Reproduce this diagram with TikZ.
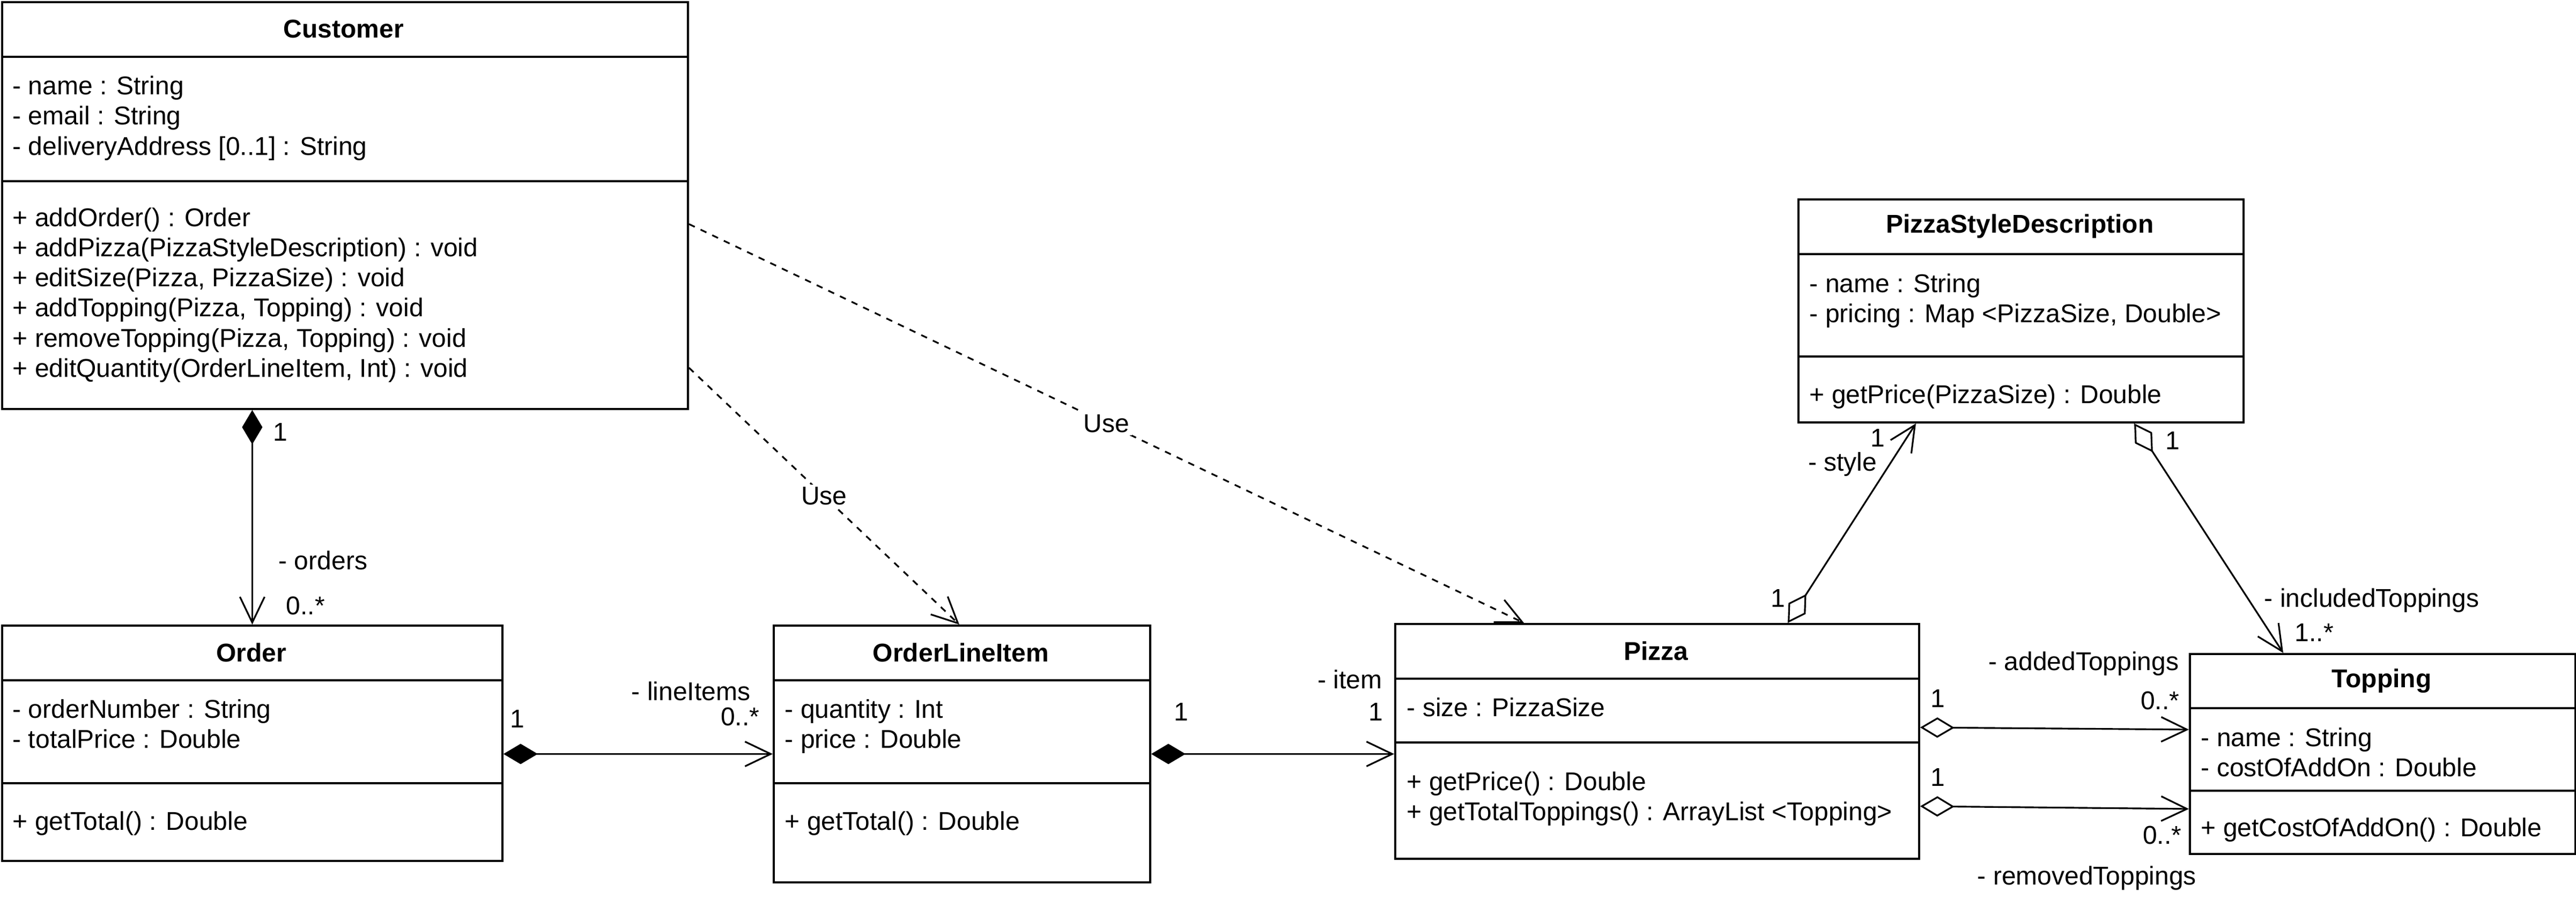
\documentclass[tikz,border=0pt]{standalone}
\usepackage{fontspec}
\setmainfont{Liberation Sans}
\usepackage{tikz}
\usetikzlibrary{arrows.meta, positioning}
\newcommand{\umlsize}{\fontsize{13.66pt}{15.94pt}\selectfont}
\tikzset{>=stealth}
\tikzset{
  classbox/.style={draw, line width=1.1pt, anchor=north west, inner sep=0pt},
  classname/.style={font=\umlsize\bfseries},
  members/.style={anchor=base west, align=left, inner sep=0pt},
  lbl/.style={inner sep=0pt},
  open end/.style={-{Straight Barb[length=0.48cm, width=0.46cm]}},
  comp/.style={line width=0.9pt, {Diamond[length=0.64cm, width=0.38cm]}-{Straight Barb[length=0.48cm, width=0.46cm]}},
  aggr/.style={line width=0.9pt, {Diamond[open, fill=white, length=0.64cm, width=0.38cm]}-{Straight Barb[length=0.48cm, width=0.46cm]}},
  use/.style={line width=0.9pt, dash pattern=on 0.12cm off 0.12cm, open end}
}
\begin{document}
\begin{tikzpicture}[y=-1cm, font=\umlsize]
            \useasboundingbox (0,0) rectangle (48.04,16.76);

            % classes (members placed at the baseline of their last line)
            \node[classbox, minimum width=12.79cm, minimum height=7.59cm] (customer) at (0.02,0.02) {};
            \draw[line width=1.1pt] (0.02,1.06)--(12.81,1.06) (0.02,3.38)--(12.81,3.38);
            \node[classname] (customerName) at (6.41,0.54) {Customer};
            \node[members] (customerAttr) at (0.23,2.89) {- name : String\\- email : String\\- deliveryAddress [0..1] : String};
            \node[members] (customerOps) at (0.23,7.03) {+ addOrder() : Order\\+ addPizza(PizzaStyleDescription) : void\\+ editSize(Pizza, PizzaSize) : void\\+ addTopping(Pizza, Topping) : void\\+ removeTopping(Pizza, Topping) : void\\+ editQuantity(OrderLineItem, Int) : void};

            \node[classbox, minimum width=9.33cm, minimum height=4.39cm] (order) at (0.02,11.65) {};
            \draw[line width=1.1pt] (0.02,12.69)--(9.35,12.69) (0.02,14.61)--(9.35,14.61);
            \node[classname] (orderName) at (4.685,12.17) {Order};
            \node[members] (orderAttr) at (0.23,13.95) {- orderNumber : String\\- totalPrice : Double};
            \node[members] (orderOps) at (0.23,15.48) {+ getTotal() : Double};

            \node[classbox, minimum width=7.02cm, minimum height=4.79cm] (oli) at (14.41,11.65) {};
            \draw[line width=1.1pt] (14.41,12.69)--(21.43,12.69) (14.41,14.61)--(21.43,14.61);
            \node[classname] (oliName) at (17.92,12.17) {OrderLineItem};
            \node[members] (oliAttr) at (14.63,13.95) {- quantity : Int\\- price : Double};
            \node[members] (oliOps) at (14.63,15.48) {+ getTotal() : Double};

            \node[classbox, minimum width=9.77cm, minimum height=4.38cm] (pizza) at (26.00,11.62) {};
            \draw[line width=1.1pt] (26.00,12.66)--(35.77,12.66) (26.00,13.85)--(35.77,13.85);
            \node[classname] (pizzaName) at (30.885,12.14) {Pizza};
            \node[members] (pizzaAttr) at (26.23,13.36) {- size : PizzaSize};
            \node[members] (pizzaOps) at (26.23,15.30) {+ getPrice() : Double\\+ getTotalToppings() : ArrayList <Topping>};

            \node[classbox, minimum width=8.30cm, minimum height=4.16cm] (psd) at (33.52,3.70) {};
            \draw[line width=1.1pt] (33.52,4.74)--(41.82,4.74) (33.52,6.65)--(41.82,6.65);
            \node[classname] (psdName) at (37.67,4.22) {PizzaStyleDescription};
            \node[members] (psdAttr) at (33.74,6.01) {- name : String\\- pricing : Map <PizzaSize, Double>};
            \node[members] (psdOps) at (33.74,7.52) {+ getPrice(PizzaSize) : Double};

            \node[classbox, minimum width=7.19cm, minimum height=3.73cm] (topping) at (40.82,12.18) {};
            \draw[line width=1.1pt] (40.82,13.21)--(48.01,13.21) (40.82,14.75)--(48.01,14.75);
            \node[classname] (toppingName) at (44.415,12.70) {Topping};
            \node[members] (toppingAttr) at (41.04,14.48) {- name : String\\- costOfAddOn : Double};
            \node[members] (toppingOps) at (41.04,15.60) {+ getCostOfAddOn() : Double};

            % associations
            \draw[comp] (order.north |- customer.south)--(order.north);
            \draw[comp] (order.east |- oli.west)--(oli.west);
            \draw[comp] (oli.east)--(pizza.west |- oli.east);
            \draw[aggr] ([xshift=7.34cm]pizza.north west)--([xshift=2.21cm]psd.south west);
            \draw[aggr] ([xshift=6.28cm]psd.south west)--([xshift=1.76cm]topping.north west);
            \draw[aggr] ([yshift=0.26cm]pizza.east)--([yshift=0.455cm]topping.west);
            \draw[aggr] ([yshift=-1.21cm]pizza.east)--([yshift=-1.025cm]topping.west);

            % dependencies
            \draw[use] ([yshift=-6.84cm]customer.north east)--([xshift=3.48cm]oli.north west) node[midway, fill=white, inner sep=1.5pt] (useOli) {Use};
            \draw[use] ([yshift=-4.16cm]customer.north east)--([xshift=2.42cm]pizza.north west) node[midway, fill=white, inner sep=1.5pt] (usePizza) {Use};

            % multiplicities and roles
            \node[lbl] (customerOne) at (5.23,8.06) {1};
            \node[lbl, anchor=west] (ordersRole) at (5.19,10.45) {- orders};
            \node[lbl, anchor=west] (ordersMult) at (5.33,11.30) {0..*};
            \node[lbl] (orderOne) at (9.65,13.41) {1};
            \node[lbl, anchor=east] (lineItemsRole) at (14.00,12.89) {- lineItems};
            \node[lbl, anchor=east] (lineItemsMult) at (14.17,13.37) {0..*};
            \node[lbl] (oliOne) at (22.03,13.28) {1};
            \node[lbl, anchor=east] (itemRole) at (25.78,12.67) {- item};
            \node[lbl] (itemMult) at (25.66,13.28) {1};
            \node[lbl] (pizzaOne) at (33.16,11.16) {1};
            \node[lbl] (styleMult) at (35.02,8.17) {1};
            \node[lbl, anchor=east] (styleRole) at (35.01,8.66) {- style};
            \node[lbl] (psdOne) at (40.52,8.22) {1};
            \node[lbl, anchor=west] (includedRole) at (42.22,11.20) {- includedToppings};
            \node[lbl, anchor=west] (includedMult) at (42.79,11.80) {1..*};
            \node[lbl, anchor=east] (addedRole) at (40.64,12.38) {- addedToppings};
            \node[lbl] (addedOne) at (36.14,13.03) {1};
            \node[lbl, anchor=east] (addedMult) at (40.65,13.07) {0..*};
            \node[lbl] (removedOne) at (36.14,14.50) {1};
            \node[lbl, anchor=east] (removedMult) at (40.69,15.58) {0..*};
            \node[lbl, anchor=west] (removedRole) at (36.87,16.38) {- removedToppings};
\end{tikzpicture}
\end{document}
